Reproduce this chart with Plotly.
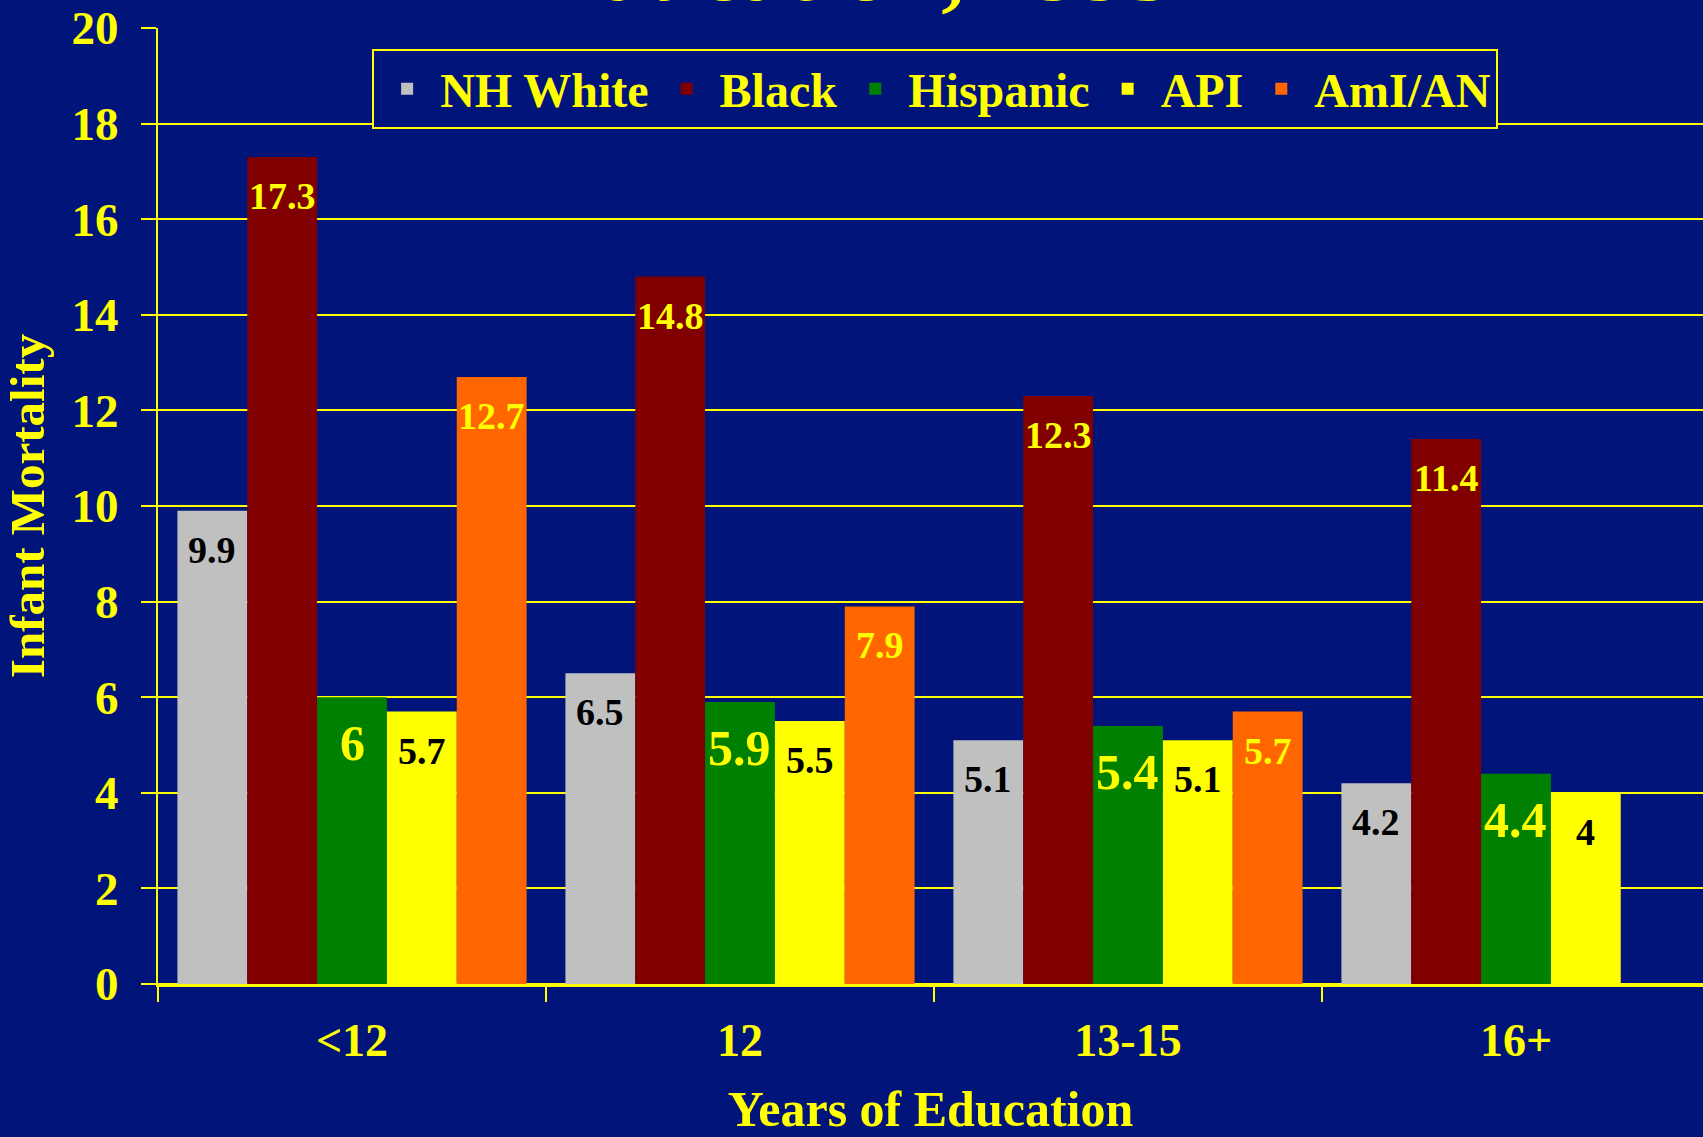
import plotly.graph_objects as go

# infant mortality per 1,000 by mother's years of education
categories = ['<12', '12', '13-15', '16+']
nh_white = [9.9, 6.5, 5.1, 4.2]
black = [17.3, 14.8, 12.3, 11.4]
hispanic = [6.0, 5.9, 5.4, 4.4]
api = [5.7, 5.5, 5.1, 4.0]
ami_an = [12.7, 7.9, 5.7, None]
y_ticks = [0, 2, 4, 6, 8, 10, 12, 14, 16, 18, 20]

NAVY = '#00147A'
YEL = '#FFFF00'
FONT = 'Liberation Serif, Times New Roman, serif'

series = [
    # name, values, bar colour, label colour, label size
    ('NH White', nh_white, '#C0C0C0', 'black', 38),
    ('Black', black, '#800000', YEL, 38),
    ('Hispanic', hispanic, '#008000', YEL, 50),
    ('API', api, '#FFFF00', 'black', 38),
    ('AmI/AN', ami_an, '#FF6600', YEL, 38),
]

W, H = 1703, 1137
L, R, T, B = 158, 0, 28, 153
x_lo, x_hi = -0.5, 3.482
bargap = 0.1
plot_w = W - L - R
bar_px = plot_w / (x_hi - x_lo) * (1 - bargap) / len(series)

fig = go.Figure()
for name, vals, col, _, _ in series:
    fig.add_trace(go.Bar(
        x=categories, y=vals, name=name,
        marker=dict(color=col, line=dict(width=0)),
        hoverinfo='x+y+name',
    ))

# value labels just under the top of each bar (x given as category index)
annotations = []
for i, (name, vals, col, lab_col, lab_size) in enumerate(series):
    for j, v in enumerate(vals):
        if v is None:
            continue
        annotations.append(dict(
            x=j, y=v, xref='x', yref='y',
            text=f'{v:g}', showarrow=False,
            xshift=(i - (len(series) - 1) / 2) * bar_px,
            yanchor='top', yshift=-16,
            font=dict(family=FONT, size=lab_size, color=lab_col, weight='bold'),
        ))

# title line, mostly above the visible area (cut off as in the slide)
annotations.append(dict(
    x=0.45, y=1, xref='paper', yref='paper', xanchor='center', yanchor='bottom',
    text='Education, 1995', showarrow=False, yshift=6,
    font=dict(family=FONT, size=93, color=YEL, weight='bold'),
))

fig.update_layout(
    width=W, height=H,
    margin=dict(l=L, r=R, t=T, b=B),
    paper_bgcolor=NAVY, plot_bgcolor=NAVY,
    barmode='group', bargap=bargap, bargroupgap=0,
    font=dict(family=FONT, color=YEL, weight='bold'),
    showlegend=True,
    legend=dict(
        orientation='h', x=0.503, xanchor='center', y=0.978, yanchor='top',
        bgcolor=NAVY, bordercolor=YEL, borderwidth=2,
        font=dict(family=FONT, size=48, color=YEL, weight='bold'),
        itemwidth=56, traceorder='normal',
    ),
    annotations=annotations,
    xaxis=dict(
        range=[x_lo, x_hi], showgrid=False,
        showline=True, linecolor=YEL, linewidth=3,
        ticks='outside', tickson='boundaries', ticklen=15, tickwidth=2, tickcolor=YEL,
        ticklabelstandoff=14,
        tickfont=dict(family=FONT, size=46, color=YEL, weight='bold'),
        title=dict(text='Years of Education', standoff=32,
                   font=dict(family=FONT, size=50, color=YEL, weight='bold')),
    ),
    yaxis=dict(
        range=[0, 20], tickvals=y_ticks,
        showgrid=True, gridcolor=YEL, gridwidth=2,
        zeroline=True, zerolinecolor=YEL, zerolinewidth=3,
        showline=True, linecolor=YEL, linewidth=2,
        ticks='outside', ticklen=15, tickwidth=2, tickcolor=YEL,
        ticklabelstandoff=13,
        tickfont=dict(family=FONT, size=47, color=YEL, weight='bold'),
        title=dict(text='Infant Mortality', standoff=12,
                   font=dict(family=FONT, size=49, color=YEL, weight='bold')),
    ),
)

fig.write_html('out.html', config={'displayModeBar': False},
               post_script="document.body.style.margin = '0';")
